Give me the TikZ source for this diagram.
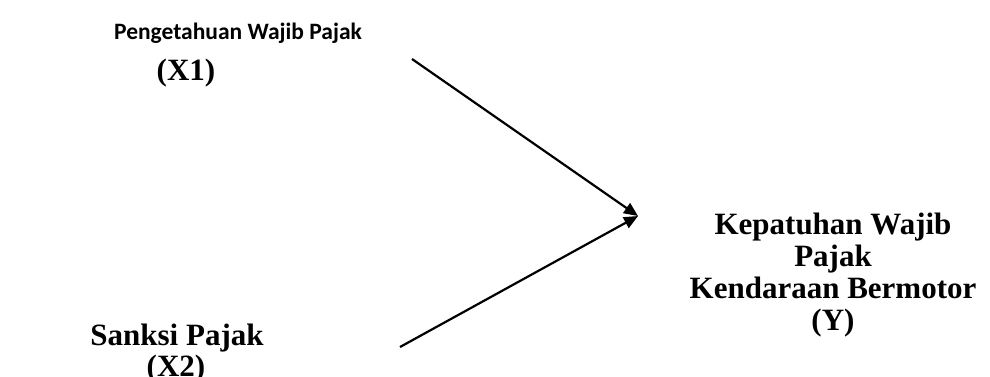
\documentclass[tikz,border=0pt]{standalone}
\usepackage{fontspec}
\setmainfont{Liberation Serif}
\newfontfamily\carlito{Carlito}
\usetikzlibrary{arrows.meta}
\tikzset{
  varlbl/.style={font=\fontsize{31}{35}\selectfont\bfseries,
                 inner sep=0pt,anchor=base},
  varsans/.style={font=\carlito\fontsize{23.5}{28}\selectfont\bfseries,
                  inner sep=0pt,anchor=base},
  arr/.style={-{Triangle[length=14pt,width=12pt]},line width=2.2pt},
}

\begin{document}
\begin{tikzpicture}[x=1pt,y=-1pt]
  \useasboundingbox (0,0) rectangle (990,376);
  \node[varsans](X1name) at (238,39) {Pengetahuan Wajib Pajak};
  \node[varlbl](X1code)  at (186,80) {(X1)};
  \node[varlbl](X2name)  at (177,345) {Sanksi Pajak};
  \node[varlbl](X2code)  at (176,376) {(X2)};
  \node[varlbl](Y1)      at (833,234) {Kepatuhan Wajib};
  \node[varlbl](Y2)      at (833,266) {Pajak};
  \node[varlbl](Y3)      at (833,298) {Kendaraan Bermotor};
  \node[varlbl](Y4)      at (833,330) {(Y)};

  \coordinate (X1out) at (412,59);
  \coordinate (X2out) at (400,347);
  \coordinate (Yin)   at (638,216);
  \draw[arr](X1out) -- (Yin);
  \draw[arr](X2out) -- (Yin);
\end{tikzpicture}
\end{document}
